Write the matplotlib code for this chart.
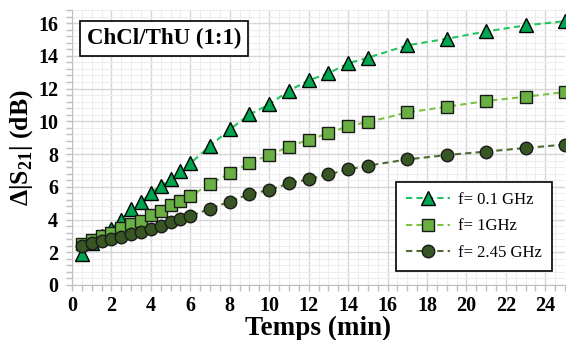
import matplotlib
matplotlib.use("Agg")
import matplotlib.pyplot as plt
from matplotlib.ticker import MultipleLocator

plt.rcParams['font.family'] = ['Liberation Serif', 'DejaVu Serif']
plt.rcParams['mathtext.fontset'] = 'custom'
plt.rcParams['mathtext.rm'] = 'Liberation Serif:bold'
plt.rcParams['mathtext.bf'] = 'Liberation Serif:bold'

time = [0.5, 1, 1.5, 2, 2.5, 3, 3.5, 4, 4.5, 5, 5.5, 6, 7, 8, 9, 10, 11, 12, 13, 14, 15, 17, 19, 21, 23, 25]
s_01 = [1.9, 2.55, 3.0, 3.45, 4.0, 4.64, 5.05, 5.64, 6.05, 6.46, 6.96, 7.43, 8.49, 9.5, 10.42, 11.03, 11.87, 12.5,
        12.93, 13.54, 13.88, 14.64, 15.04, 15.49, 15.86, 16.12]
s_1 = [2.5, 2.75, 2.99, 3.2, 3.46, 3.72, 3.93, 4.27, 4.54, 4.89, 5.15, 5.43, 6.17, 6.82, 7.45, 7.94, 8.45, 8.88,
       9.26, 9.71, 9.95, 10.54, 10.89, 11.24, 11.5, 11.79]
s_245 = [2.38, 2.54, 2.71, 2.79, 2.91, 3.09, 3.24, 3.44, 3.6, 3.85, 4.05, 4.21, 4.66, 5.09, 5.56, 5.8, 6.21, 6.46,
         6.76, 7.06, 7.29, 7.67, 7.94, 8.15, 8.37, 8.58]
labels = ["f= 0.1 GHz", "f= 1GHz", "f= 2.45 GHz"]
title_text = "ChCl/ThU (1:1)"

fig = plt.figure(figsize=(5.66, 3.4), dpi=100)
ax = fig.add_axes([72/566, 55/340, 493/566, 275/340])

ax.plot(time, s_01, linestyle=(0, (3, 2)), color='#22C55E', lw=1.5, marker='^', markersize=9.5,
        markerfacecolor='#00A550', markeredgecolor='black', markeredgewidth=1.0, label=labels[0], zorder=3)
ax.plot(time, s_1, linestyle=(0, (3, 2)), color='#7DC242', lw=1.5, marker='s', markersize=8.5,
        markerfacecolor='#6AAF44', markeredgecolor='#1a1a1a', markeredgewidth=1.0, label=labels[1], zorder=3)
ax.plot(time, s_245, linestyle=(0, (3, 2)), color='#4E6B30', lw=1.5, marker='o', markersize=9,
        markerfacecolor='#375623', markeredgecolor='#1a1a1a', markeredgewidth=1.0, label=labels[2], zorder=4)

ax.set_xlim(0, 25)
ax.set_ylim(0, 16.8)
ax.xaxis.set_major_locator(MultipleLocator(2))
ax.xaxis.set_minor_locator(MultipleLocator(0.5))
ax.yaxis.set_major_locator(MultipleLocator(2))
ax.yaxis.set_minor_locator(MultipleLocator(0.4))
ax.grid(which='major', color='#D6D6D6', lw=1.0)
ax.grid(which='minor', color='#EDEDED', lw=0.8)
ax.set_axisbelow(True)
for s in ['top', 'right']:
    ax.spines[s].set_visible(False)
for s in ['left', 'bottom']:
    ax.spines[s].set_color('#BFBFBF')
ax.tick_params(which='both', direction='out', color='#BFBFBF', length=4, width=1)
ax.tick_params(axis='y', which='major', labelsize=14.5, pad=6)
ax.tick_params(axis='x', which='major', labelsize=14.5, pad=4)
for lab in ax.get_xticklabels() + ax.get_yticklabels():
    lab.set_fontweight('bold')

ax.set_xlabel("Temps (min)", fontsize=19.5, fontweight='bold', labelpad=0)
ax.set_ylabel("Δ|S$_{21}$| (dB)", fontsize=18.5, fontweight='bold', labelpad=2)

ax.text(0.03, 0.895, title_text, transform=ax.transAxes, fontsize=16.5, fontweight='bold',
        va='center', ha='left',
        bbox=dict(boxstyle='square,pad=0.3', facecolor='white', edgecolor='black', lw=1.2))

leg = ax.legend(loc='lower right', bbox_to_anchor=(0.99, 0.02), fontsize=12, frameon=True, fancybox=False,
                edgecolor='black', framealpha=1, handlelength=2.6, handletextpad=0.5, borderpad=0.6,
                labelspacing=0.65)
leg.get_frame().set_linewidth(1.2)

fig.savefig("out.png", dpi=100)
